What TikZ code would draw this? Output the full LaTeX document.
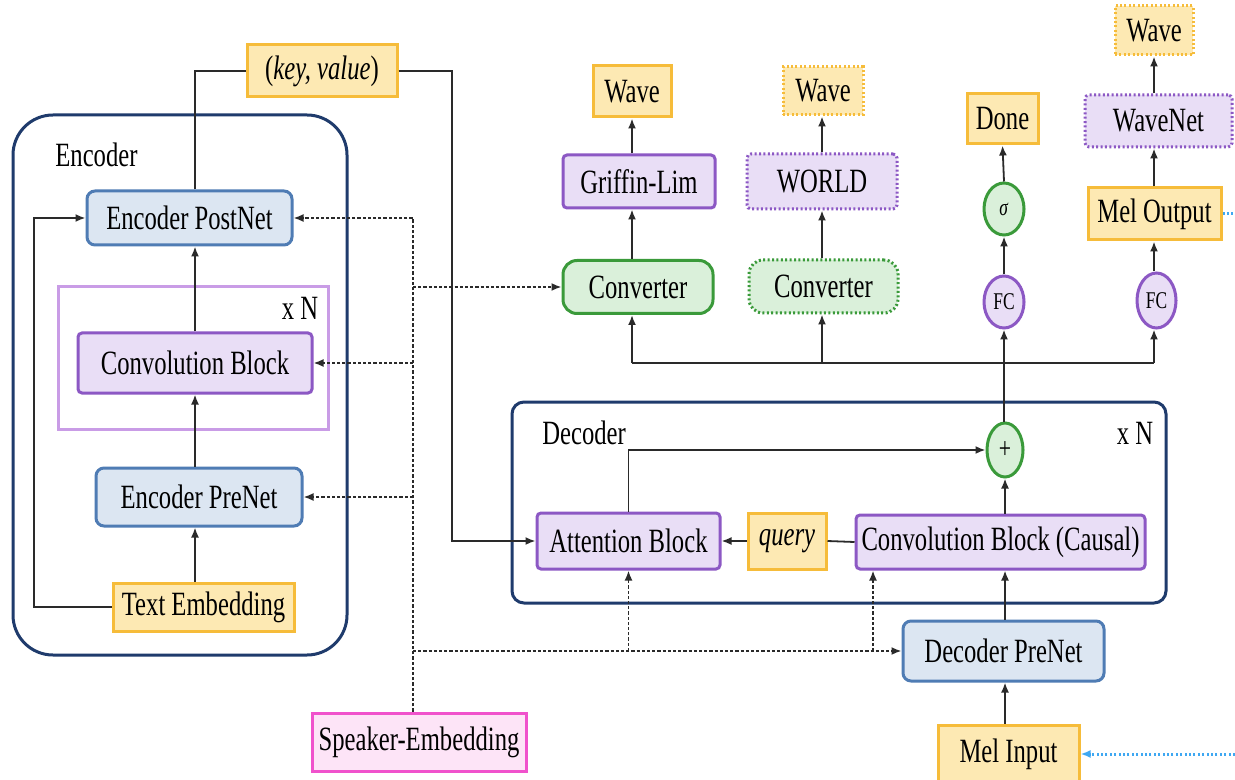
\documentclass[tikz,border=0pt]{standalone}
\usepackage{fontspec}
\setmainfont[FakeStretch=0.725]{Liberation Serif}
\usetikzlibrary{arrows.meta,shapes.geometric}
\definecolor{ylf}{HTML}{FDE9B3}
\definecolor{yld}{HTML}{F6BC3A}
\definecolor{blf}{HTML}{DCE6F2}
\definecolor{bld}{HTML}{4F7CB4}
\definecolor{puf}{HTML}{E9DEF6}
\definecolor{pud}{HTML}{8C58C4}
\definecolor{grf}{HTML}{DAF0DA}
\definecolor{grd}{HTML}{3A9A3A}
\definecolor{pkf}{HTML}{FDE4F7}
\definecolor{pkd}{HTML}{F052CC}
\definecolor{nav}{HTML}{1F3B6C}
\definecolor{lpu}{HTML}{C99CE6}
\definecolor{skb}{HTML}{3FA8F2}
\definecolor{lnc}{HTML}{2A2A2A}
\tikzset{
  base/.style={inner sep=0pt, line width=1.5pt, font=\fontsize{17}{19}\selectfont, text=black},
  lbl/.style={inner sep=0pt, font=\fontsize{17}{19}\selectfont, text=black},
  ybox/.style={base, draw=yld, fill=ylf},
  bbox/.style={base, draw=bld, fill=blf, rounded corners=4pt},
  pbox/.style={base, draw=pud, fill=puf, rounded corners=2pt},
  gbox/.style={base, draw=grd, fill=grf, rounded corners=7pt},
  kbox/.style={base, draw=pkd, fill=pkf},
  dotb/.style={dash pattern=on 1pt off 1.2pt},
  container/.style={inner sep=0pt, draw=nav, line width=1.5pt},
  circp/.style={base, ellipse, draw=pud, fill=puf, font=\fontsize{12}{14}\selectfont},
  circg/.style={base, ellipse, draw=grd, fill=grf, font=\fontsize{12}{14}\selectfont},
  ln/.style={draw=lnc, line width=0.9pt},
  arr/.style={ln, -{Latex[length=5pt,width=4pt]}},
  dsh/.style={arr, dash pattern=on 1.6pt off 1pt},
  bdot/.style={draw=skb, line width=1.5pt, dash pattern=on 1pt off 1.2pt},
}
\begin{document}
\begin{tikzpicture}[x=0.5pt,y=-0.5pt]
\useasboundingbox (0,0) rectangle (1235,780);
\fill[white] (0,0) rectangle (1235,780);
\clip (0,0) rectangle (1235,780);

% containers
\node[container, rounded corners=20pt, minimum width=167pt, minimum height=270pt] (encbox) at (180,385) {};
\node[base, draw=lpu, minimum width=135pt, minimum height=71.5pt] (xnbox) at (193,358) {};
\node[container, rounded corners=6pt, minimum width=327pt, minimum height=100.5pt] (decbox) at (839,502.5) {};

% encoder
\node[ybox, minimum width=75pt, minimum height=26pt] (keyval) at (322,71) {(\textit{key, value})};
\node[lbl, anchor=west] (enclab) at (55,155) {Encoder};
\node[bbox, minimum width=102.5pt, minimum height=27pt] (postnet) at (189.5,218) {Encoder PostNet};
\node[lbl] (xn1) at (300,308) {x N};
\node[pbox, minimum width=117pt, minimum height=30pt] (convblock) at (195,363) {Convolution Block};
\node[bbox, minimum width=103pt, minimum height=29pt] (prenet) at (199,497) {Encoder PreNet};
\node[ybox, minimum width=90.5pt, minimum height=24pt] (textemb) at (203.5,607) {Text Embedding};
\node[kbox, minimum width=107pt, minimum height=29pt] (speaker) at (419,742) {Speaker-Embedding};

% vocoders
\node[ybox, minimum width=39pt, minimum height=25.5pt] (wave1) at (632,91.5) {Wave};
\node[pbox, minimum width=76pt, minimum height=26.5pt] (griffin) at (639,181.5) {Griffin-Lim};
\node[gbox, minimum width=75pt, minimum height=26.5pt] (conv1) at (638,287) {Converter};
\node[ybox, dotb, minimum width=40pt, minimum height=24pt] (wave2) at (823,91) {Wave};
\node[pbox, dotb, minimum width=75pt, minimum height=27.5pt] (world) at (822,181.5) {WORLD};
\node[gbox, dotb, minimum width=74.5pt, minimum height=26.5pt] (conv2) at (823.5,286.5) {Converter};
\node[ybox, dotb, minimum width=39pt, minimum height=24.5pt] (wave3) at (1154,30.5) {Wave};
\node[pbox, dotb, minimum width=73.5pt, minimum height=26pt] (wavenet) at (1158.5,121) {WaveNet};
\node[ybox, minimum width=66.5pt, minimum height=26pt] (melout) at (1154.5,214) {Mel Output};
\node[circp, minimum width=19.5pt, minimum height=27.5pt] (fc2) at (1156.5,300.5) {FC};
\node[ybox, minimum width=35.5pt, minimum height=25pt] (done) at (1002.5,119) {Done};
\node[circg, minimum width=20pt, minimum height=26pt] (sigma) at (1004,209) {\textit{σ}};
\node[circp, minimum width=20pt, minimum height=26pt] (fc1) at (1004,302) {FC};

% decoder
\node[lbl, anchor=west] (declab) at (542,433) {Decoder};
\node[lbl] (xn2) at (1135,433) {x N};
\node[circg, minimum width=18pt, minimum height=27pt, font=\fontsize{15}{17}\selectfont] (plus) at (1005,450) {+};
\node[pbox, minimum width=91.5pt, minimum height=28pt] (attn) at (628.5,541) {Attention Block};
\node[ybox, minimum width=39pt, minimum height=28pt] (query) at (787,541) {\textit{query}};
\node[pbox, minimum width=144.5pt, minimum height=27pt] (causal) at (1000.5,542) {Convolution Block (Causal)};
\node[bbox, minimum width=100.5pt, minimum height=30pt] (decpre) at (1003.5,651) {Decoder PreNet};
\node[ybox, minimum width=70.5pt, minimum height=29pt] (melin) at (1008.5,754) {Mel Input};

% helper columns
\coordinate (ecol) at (195,0);
\coordinate (lft) at (34,0);
\coordinate (kvcol) at (452,0);
\coordinate (spcol) at (413,0);
\coordinate (ccol) at (873,0);
\coordinate (c1col) at (632,0);
\coordinate (c2col) at (822,0);
\coordinate (c3col) at (1154,0);
\coordinate (bus) at (0,363);
\coordinate (redge) at (1235,0);

% encoder connectors
\draw[arr] (textemb.north -| ecol) -- (prenet.south -| ecol);
\draw[arr] (prenet.north -| ecol) -- (convblock.south -| ecol);
\draw[arr] (convblock.north -| ecol) -- (postnet.south -| ecol);
\draw[arr] (textemb.west) -- (textemb.west -| lft) -- (postnet.west -| lft) -- (postnet.west);
\draw[ln] (postnet.north -| ecol) |- (keyval.west);
\draw[arr] (keyval.east) -- (keyval.east -| kvcol) -- (attn.west -| kvcol) -- (attn.west);

% speaker embedding
\draw[dsh] (speaker.north -| spcol) -- (postnet.east -| spcol) -- (postnet.east);
\draw[dsh] (conv1.west -| spcol) -- (conv1.west);
\draw[dsh] (convblock.east -| spcol) -- (convblock.east);
\draw[dsh] (prenet.east -| spcol) -- (prenet.east);
\draw[dsh] (decpre.west -| spcol) -- (decpre.west);
\draw[dsh] (decpre.west -| attn) -- (attn.south);
\draw[dsh] (decpre.west -| ccol) -- (causal.south -| ccol);

% top
\draw[arr] (conv1.north -| c1col) -- (griffin.south -| c1col);
\draw[arr] (griffin.north -| c1col) -- (wave1.south -| c1col);
\draw[arr] (conv2.north -| c2col) -- (world.south -| c2col);
\draw[arr] (world.north -| c2col) -- (wave2.south -| c2col);
\draw[arr] (plus.north -| fc1) -- (fc1.south);
\draw[arr] (fc1.north) -- (sigma.south);
\draw[arr] (sigma.north) -- (done.south);
\draw[arr] (fc2.north -| c3col) -- (melout.south -| c3col);
\draw[arr] (melout.north -| c3col) -- (wavenet.south -| c3col);
\draw[arr] (wavenet.north -| c3col) -- (wave3.south -| c3col);
\draw[ln] (bus -| c1col) -- (bus -| c3col);
\draw[arr] (bus -| c1col) -- (conv1.south -| c1col);
\draw[arr] (bus -| c2col) -- (conv2.south -| c2col);
\draw[arr] (bus -| c3col) -- (fc2.south -| c3col);

% decoder connectors
\draw[arr] (attn.north) |- (plus.west);
\draw[ln] (causal.west) -- (query.east);
\draw[arr] (query.west) -- (attn.east);
\draw[arr] (causal.north -| plus) -- (plus.south);
\draw[arr] (decpre.north -| plus) -- (causal.south -| plus);
\draw[arr] (melin.north -| plus) -- (decpre.south -| plus);
\draw[bdot, -{Latex[length=5pt,width=4pt]}] (melin.east -| redge) -- (melin.east);
\draw[bdot] (melout.east) -- (melout.east -| redge);
\end{tikzpicture}
\end{document}
